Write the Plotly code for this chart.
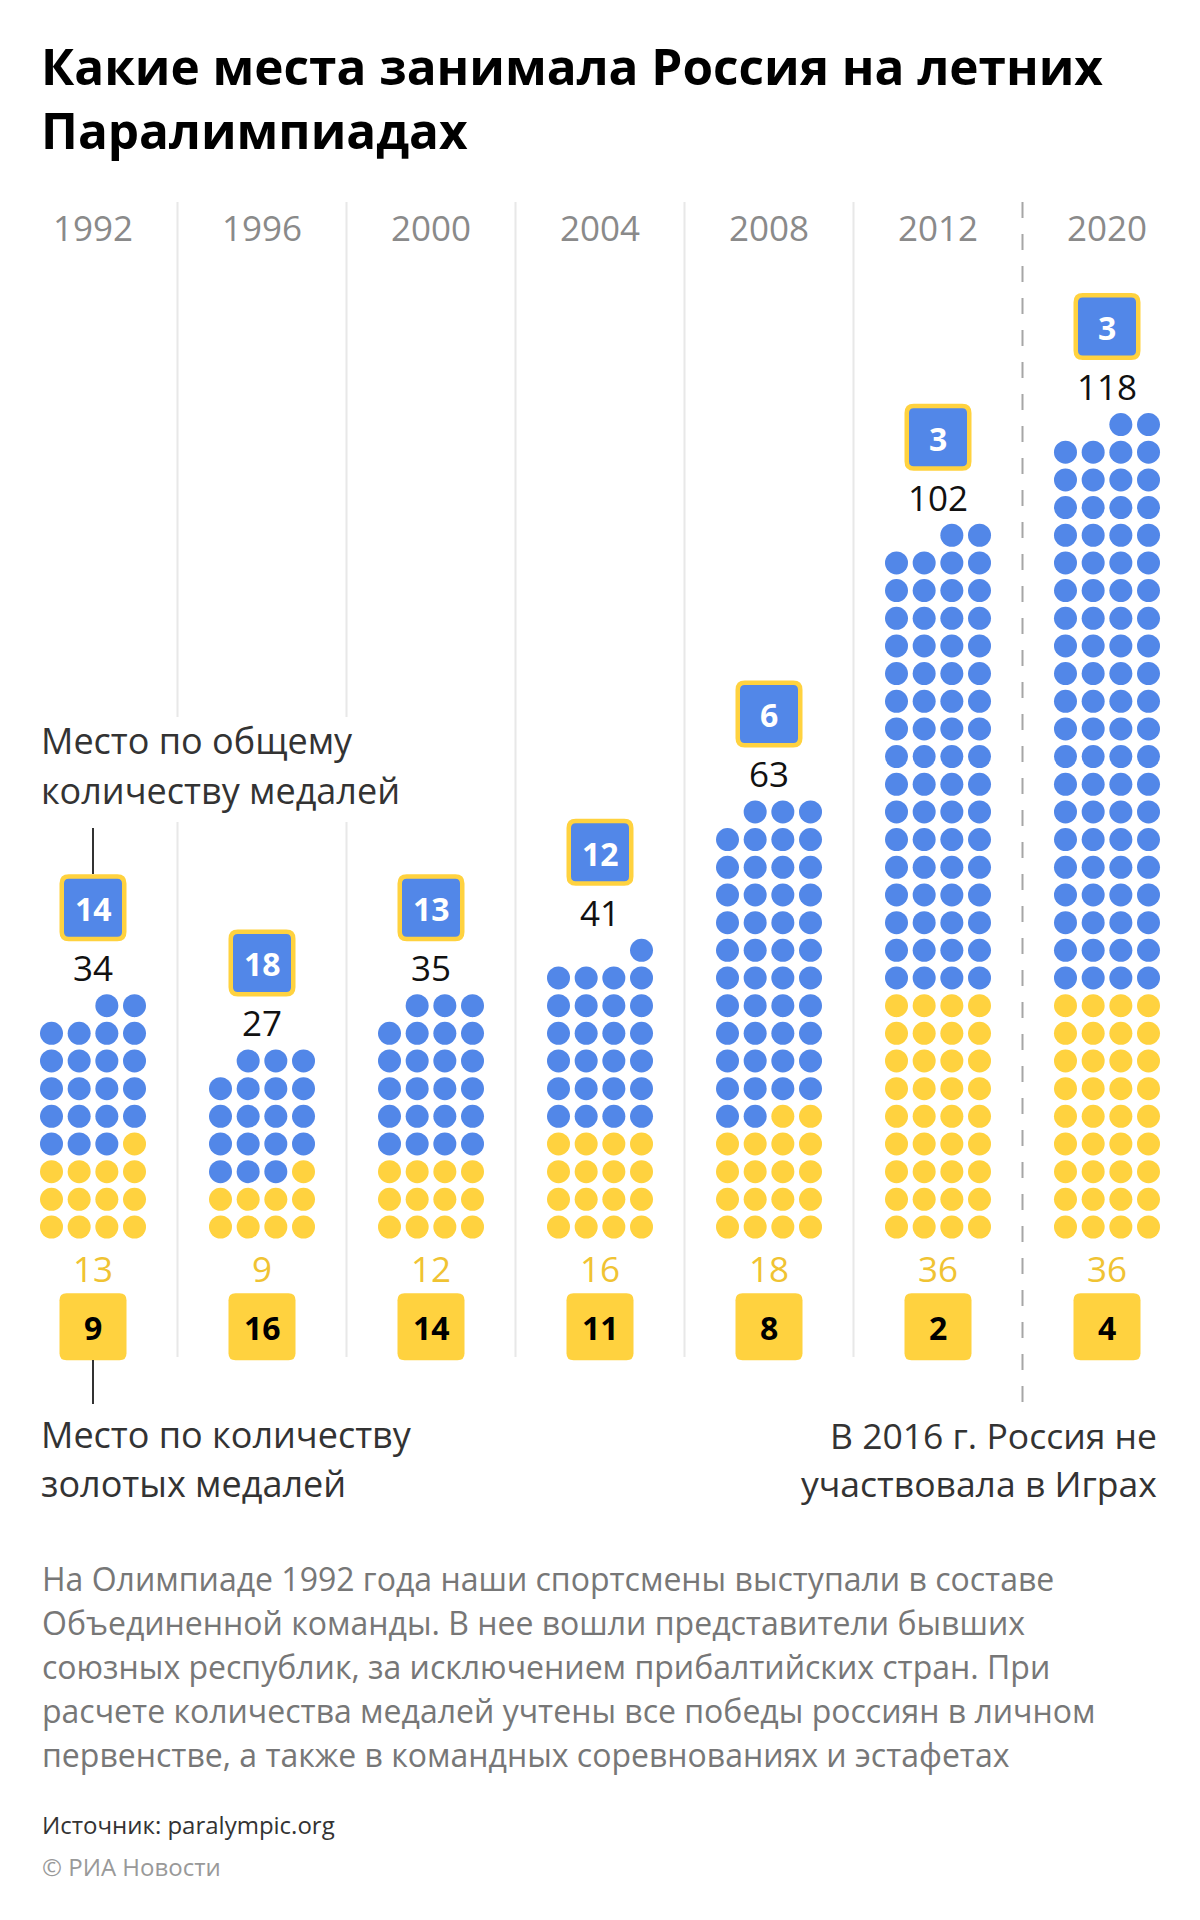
import plotly.graph_objects as go

# ---------------- data ----------------
years = ["1992", "1996", "2000", "2004", "2008", "2012", "2020"]
total_medals = [34, 27, 35, 41, 63, 102, 118]
gold_medals = [13, 9, 12, 16, 18, 36, 36]
rank_total = [14, 18, 13, 12, 6, 3, 3]
rank_gold = [9, 16, 14, 11, 8, 2, 4]

title_lines = ["Какие места занимала Россия на летних", "Паралимпиадах"]
note_top = ["Место по общему", "количеству медалей"]
note_bottom = ["Место по количеству", "золотых медалей"]
note_2016 = ["В 2016 г. Россия не", "участвовала в Играх"]
footnote = [
    "На Олимпиаде 1992 года наши спортсмены выступали в составе",
    "Объединенной команды. В нее вошли представители бывших",
    "союзных республик, за исключением прибалтийских стран. При",
    "расчете количества медалей учтены все победы россиян в личном",
    "первенстве, а также в командных соревнованиях и эстафетах",
]
source = "Источник: paralympic.org"
credit = "© РИА Новости"

# ---------------- style / layout ----------------
W, H = 1200, 1920
BLUE = "#5287E8"
YEL = "#FFD23F"
GOLDTXT = "#F0C332"
FONT = "Open Sans"
col0, colstep = 93, 169
step = 27.67
base_y = 1227
per_row = 4
dot_d = 23

fig = go.Figure()

def rrect(cx, cy, w, h, r):
    x0, x1 = cx - w / 2, cx + w / 2
    y0, y1 = cy - h / 2, cy + h / 2
    return (f"M {x0+r},{y0} L {x1-r},{y0} Q {x1},{y0} {x1},{y0+r} "
            f"L {x1},{y1-r} Q {x1},{y1} {x1-r},{y1} L {x0+r},{y1} "
            f"Q {x0},{y1} {x0},{y1-r} L {x0},{y0+r} Q {x0},{y0} {x0+r},{y0} Z")

shapes = []
ann = []

def text(x, y, s, size, color, weight=400, xanchor="center", align="left"):
    ann.append(dict(x=x, y=y, xref="x", yref="y", text=s, showarrow=False,
                    xanchor=xanchor, yanchor="middle", align=align,
                    font=dict(family=FONT, size=size, color=color, weight=weight)))

# gridlines between columns
for k in range(1, len(years)):
    gx = col0 + (k - 0.5) * colstep
    if k == len(years) - 1:
        shapes.append(dict(type="line", x0=gx, x1=gx, y0=202, y1=1404, xref="x", yref="y",
                           line=dict(color="#A6A6A6", width=2, dash="16px,16px"), layer="below"))
    elif k in (1, 2):
        shapes.append(dict(type="line", x0=gx, x1=gx, y0=202, y1=717, xref="x", yref="y",
                           line=dict(color="#E8E8E8", width=2), layer="below"))
        shapes.append(dict(type="line", x0=gx, x1=gx, y0=822, y1=1357, xref="x", yref="y",
                           line=dict(color="#E8E8E8", width=2), layer="below"))
    else:
        shapes.append(dict(type="line", x0=gx, x1=gx, y0=202, y1=1357, xref="x", yref="y",
                           line=dict(color="#E8E8E8", width=2), layer="below"))

gx_all, gy_all, bx_all, by_all = [], [], [], []
for c, yr in enumerate(years):
    cx = col0 + c * colstep
    tot, gold = total_medals[c], gold_medals[c]
    for i in range(tot):
        row, pos = divmod(i, per_row)
        slot = per_row - 1 - pos
        x = cx + (slot - 1.5) * step
        y = base_y - row * step
        if i < gold:
            gx_all.append(x); gy_all.append(y)
        else:
            bx_all.append(x); by_all.append(y)
    nrows = (tot + per_row - 1) // per_row
    top_y = base_y - (nrows - 1) * step
    lab_y = top_y - 38
    box_y = lab_y - 60
    # year
    text(cx, 227.5, yr, 35, "#8A8A8A")
    # total number
    text(cx, lab_y, str(tot), 35, "#111111")
    # total rank box
    shapes.append(dict(type="path", path=rrect(cx, box_y, 62.5, 62.5, 7), xref="x", yref="y",
                       fillcolor=BLUE, line=dict(color=YEL, width=4.5)))
    text(cx, box_y + 1, str(rank_total[c]), 32, "white", 700)
    # gold number
    text(cx, 1268, str(gold), 35, GOLDTXT)
    # gold rank box
    shapes.append(dict(type="path", path=rrect(cx, 1326.7, 67, 67, 7), xref="x", yref="y",
                       fillcolor=YEL, line=dict(width=0)))
    text(cx, 1327.5, str(rank_gold[c]), 32, "#000000", 700)

fig.add_trace(go.Scatter(x=gx_all, y=gy_all, mode="markers", hoverinfo="skip",
                         marker=dict(size=dot_d, color=YEL, line=dict(width=0))))
fig.add_trace(go.Scatter(x=bx_all, y=by_all, mode="markers", hoverinfo="skip",
                         marker=dict(size=dot_d, color=BLUE, line=dict(width=0))))

# pointer lines for annotations (first column)
shapes.append(dict(type="line", x0=col0, x1=col0, y0=828, y1=874, xref="x", yref="y",
                   line=dict(color="#333333", width=2)))
shapes.append(dict(type="line", x0=col0, x1=col0, y0=1360, y1=1404, xref="x", yref="y",
                   line=dict(color="#333333", width=2)))

# title (one two-line block)
text(39, 97.5, "<br>".join(title_lines), 49.5, "#000000", 700, "left", "left")
# notes
text(39, 740, note_top[0], 36, "#333333", 400, "left")
text(39, 790, note_top[1], 36, "#333333", 400, "left")
text(39, 1434.7, note_bottom[0], 36, "#333333", 400, "left")
text(39, 1483, note_bottom[1], 36, "#333333", 400, "left")
text(1159, 1434.7, note_2016[0], 35.5, "#333333", 400, "right")
text(1159, 1483, note_2016[1], 35.5, "#333333", 400, "right")
for j, line in enumerate(footnote):
    text(40, 1578.8 + j * 44, line, 32, "#777777", 400, "left")
text(40, 1824, source, 24, "#333333", 400, "left")
text(40, 1866, credit, 24, "#999999", 400, "left")

fig.update_layout(
    width=W, height=H, margin=dict(l=0, r=0, t=0, b=0, pad=0),
    paper_bgcolor="white", plot_bgcolor="white", showlegend=False,
    xaxis=dict(range=[0, W], visible=False, fixedrange=True),
    yaxis=dict(range=[H, 0], visible=False, fixedrange=True),
    shapes=shapes, annotations=ann,
)
fig.write_html("out.html")
